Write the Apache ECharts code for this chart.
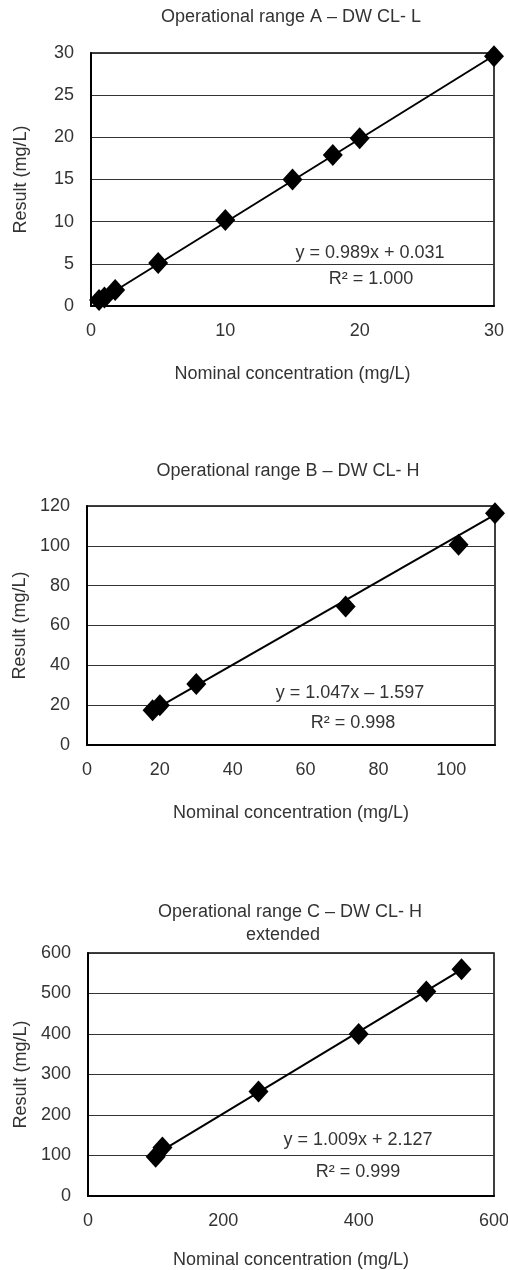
<!DOCTYPE html>
<html>
<head>
<meta charset="utf-8">
<script src="https://cdn.jsdelivr.net/npm/echarts@6/dist/echarts.min.js"></script>
<style>
  html, body { margin: 0; padding: 0; background: #fff; }
  #main { width: 508px; height: 1270px; }
</style>
</head>
<body>
<div id="main"></div>
<script>
// range A
var nominalA = [0.6, 1.0, 1.8, 5, 10, 15, 18, 20, 30];
var resultA = [0.7, 1.0, 1.9, 5.1, 10.2, 15.0, 17.9, 19.9, 29.6];
var fitA = [0.989, 0.031];
// range B
var nominalB = [18, 20, 30, 71, 102, 112];
var resultB = [17.5, 20, 30.6, 69.5, 100.5, 116.4];
var fitB = [1.047, -1.597];
// range C
var nominalC = [100, 110, 252, 400, 500, 552];
var resultC = [97, 120, 258, 400, 505, 560];
var fitC = [1.009, 2.127];

var titles = ['Operational range A \u2013 DW CL- L', 'Operational range B \u2013 DW CL- H', 'Operational range C \u2013 DW CL- H', 'extended'];
var eqTexts = ['y = 0.989x + 0.031', 'R\u00b2 = 1.000', 'y = 1.047x \u2013 1.597', 'R\u00b2 = 0.998', 'y = 1.009x + 2.127', 'R\u00b2 = 0.999'];
var xName = 'Nominal concentration (mg/L)';
var yName = 'Result (mg/L)';

var FONT = '"Liberation Sans", Arial, Helvetica, sans-serif';
var TXT = '#333';

function pairs(xs, ys) {
  var out = [];
  for (var i = 0; i < xs.length; i++) out.push([xs[i], ys[i]]);
  return out;
}
/** trendline from min to max of the nominal values */
function fitLine(xs, fit) {
  var lo = Math.min.apply(null, xs), hi = Math.max.apply(null, xs);
  return [[lo, fit[0] * lo + fit[1]], [hi, fit[0] * hi + fit[1]]];
}
function xAxisOf(idx, max, interval, gap) {
  return {
    type: 'value', gridIndex: idx, min: 0, max: max, interval: interval,
    name: xName, nameLocation: 'middle', nameGap: gap,
    nameTextStyle: { fontFamily: FONT, fontSize: 18, color: TXT },
    axisLine: { show: true, onZero: false, lineStyle: { color: '#000', width: 2 } },
    axisTick: { show: false },
    axisLabel: { fontFamily: FONT, fontSize: 18, color: TXT, margin: 16, showMaxLabel: max % interval === 0 },
    splitLine: { show: false }
  };
}
function yAxisOf(idx, max, interval, gap) {
  return {
    type: 'value', gridIndex: idx, min: 0, max: max, interval: interval,
    name: yName, nameLocation: 'middle', nameGap: gap, nameRotate: 90,
    nameTextStyle: { fontFamily: FONT, fontSize: 18, color: TXT },
    axisLine: { show: true, lineStyle: { color: '#000', width: 2 } },
    axisTick: { show: false },
    axisLabel: { fontFamily: FONT, fontSize: 18, color: TXT, margin: 17 },
    splitLine: { show: true, lineStyle: { color: '#333', width: 1.2 } }
  };
}
function pointsOf(idx, xs, ys) {
  return {
    type: 'scatter', xAxisIndex: idx, yAxisIndex: idx, data: pairs(xs, ys),
    symbol: 'diamond', symbolSize: [20, 22], clip: false, z: 5,
    itemStyle: { color: '#000', opacity: 1 }
  };
}
function trendOf(idx, xs, fit) {
  return {
    type: 'line', xAxisIndex: idx, yAxisIndex: idx, data: fitLine(xs, fit),
    symbol: 'none', clip: false, z: 4,
    lineStyle: { color: '#000', width: 2 }
  };
}
function titleOf(text, left, top) {
  return { text: text, left: left, top: top, textAlign: 'center', padding: 0,
    textStyle: { fontFamily: FONT, fontSize: 18, fontWeight: 'normal', color: TXT } };
}
function eqText(text, x, y) {
  return { type: 'text', x: x, y: y, z: 10,
    style: { text: text, fontFamily: FONT, fontSize: 18, fill: TXT, align: 'center', verticalAlign: 'middle' } };
}
function gridOf(left, top, width, height) {
  return { left: left, top: top, width: width, height: height, show: true,
    borderColor: '#000', borderWidth: 1.5, containLabel: false, outerBoundsMode: 'none' };
}

var chart = echarts.init(document.getElementById('main'));
chart.setOption({
  backgroundColor: '#fff',
  animation: false,
  title: [
    titleOf(titles[0], 291, 8),
    titleOf(titles[1], 288, 462),
    titleOf(titles[2], 290, 903),
    titleOf(titles[3], 283, 926)
  ],
  grid: [
    gridOf(91, 53, 403, 253),
    gridOf(87, 506, 408, 239),
    gridOf(88, 953, 406, 243)
  ],
  xAxis: [xAxisOf(0, 30, 10, 59), xAxisOf(1, 112, 20, 59), xAxisOf(2, 600, 200, 55)],
  yAxis: [yAxisOf(0, 30, 5, 61), yAxisOf(1, 120, 20, 57), yAxisOf(2, 600, 100, 58)],
  series: [
    trendOf(0, nominalA, fitA), pointsOf(0, nominalA, resultA),
    trendOf(1, nominalB, fitB), pointsOf(1, nominalB, resultB),
    trendOf(2, nominalC, fitC), pointsOf(2, nominalC, resultC)
  ],
  graphic: [
    eqText(eqTexts[0], 370, 253), eqText(eqTexts[1], 371, 279),
    eqText(eqTexts[2], 350, 693), eqText(eqTexts[3], 353, 723),
    eqText(eqTexts[4], 358, 1140), eqText(eqTexts[5], 358, 1172)
  ]
});
</script>
</body>
</html>
